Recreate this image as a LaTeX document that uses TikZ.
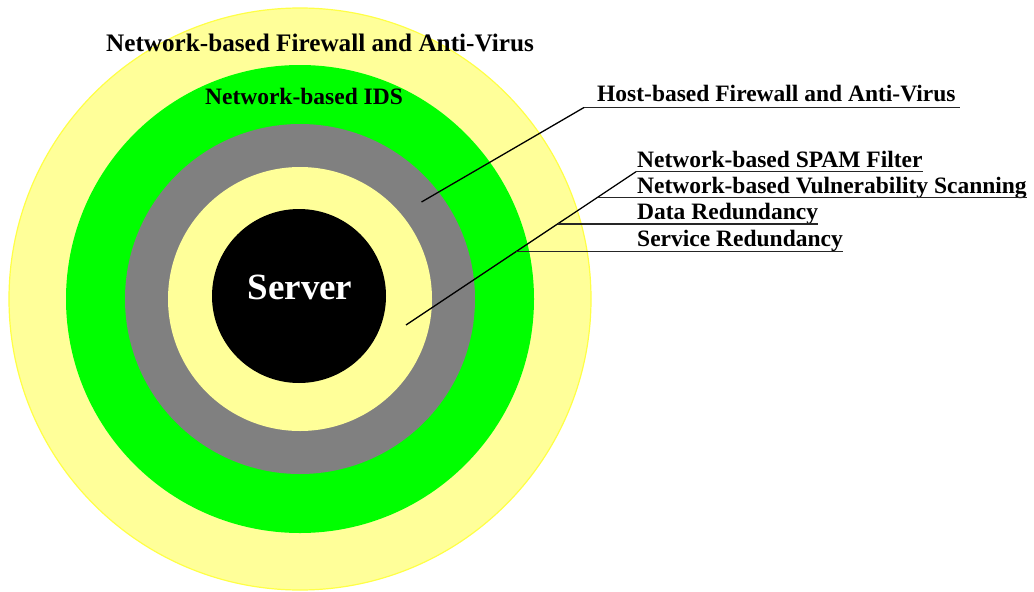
\documentclass[tikz,border=0pt]{standalone}
\usepackage{fontspec}
\setmainfont{Liberation Serif}
\usetikzlibrary{calc}
\definecolor{paleyellow}{RGB}{255,255,153}
\definecolor{edgeyellow}{RGB}{255,255,70}
\definecolor{ringgreen}{RGB}{0,255,0}
\definecolor{ringgray}{RGB}{128,128,128}
\begin{document}
\begin{tikzpicture}[x=1pt,y=-1pt,
  lbl/.style={font=\fontsize{23.5}{28}\selectfont\bfseries, inner sep=0pt, anchor=base west},
  leader/.style={line width=1.3pt, black},
  uline/.style={line width=1.4pt, black!85}]
\useasboundingbox (0,0) rectangle (1034,592);
\fill[white] (0,0) rectangle (1034,592);
\coordinate (c) at (300,299);
\coordinate (cb) at (299,296);
\fill[paleyellow, draw=edgeyellow, line width=1.2pt] (c) circle (291pt);
\fill[ringgreen] (c) circle (234pt);
\fill[ringgray] (c) circle (175pt);
\fill[paleyellow] (c) circle (132pt);
\fill[black] (cb) circle (87pt);

\node[lbl, anchor=base, font=\fontsize{25.2}{30}\selectfont\bfseries] (nfw) at (320,51) {Network-based Firewall and Anti-Virus};
\node[lbl, anchor=base] (ids) at (304,104) {Network-based IDS};
\node[lbl] (host) at (597,101) {Host-based Firewall and Anti-Virus};
\node[lbl] (spam) at (637,167) {Network-based SPAM Filter};
\node[lbl] (vuln) at (637,193) {Network-based Vulnerability Scanning};
\node[lbl] (data) at (637,219) {Data Redundancy};
\node[lbl] (serv) at (637,246) {Service Redundancy};
\node[font=\fontsize{37}{40}\selectfont\bfseries, text=white, anchor=base, inner sep=0pt] (server) at (300,299) {Server};

% host-based leader
\coordinate (hp) at (421.5,202);
\coordinate (hj) at (584,107.5);
\draw[leader] (hp) -- (hj);
\draw[uline] (hj) -- ($(host.base east |- hj)+(4,0)$);

% inner leader with branches
\coordinate (sp) at (406,325);
\coordinate (sj) at (636,171.7);
\coordinate (vj) at ($(sp)!0.833!(sj)$);
\coordinate (dj) at ($(sp)!0.659!(sj)$);
\coordinate (rj) at ($(sp)!0.478!(sj)$);
\draw[leader] (sp) -- (sj);
\draw[uline] (sj) -- (spam.base east |- sj);
\draw[uline] (vj) -- (vuln.base east |- vj);
\draw[uline] (dj) -- (data.base east |- dj);
\draw[uline] (rj) -- (serv.base east |- rj);
\end{tikzpicture}
\end{document}
